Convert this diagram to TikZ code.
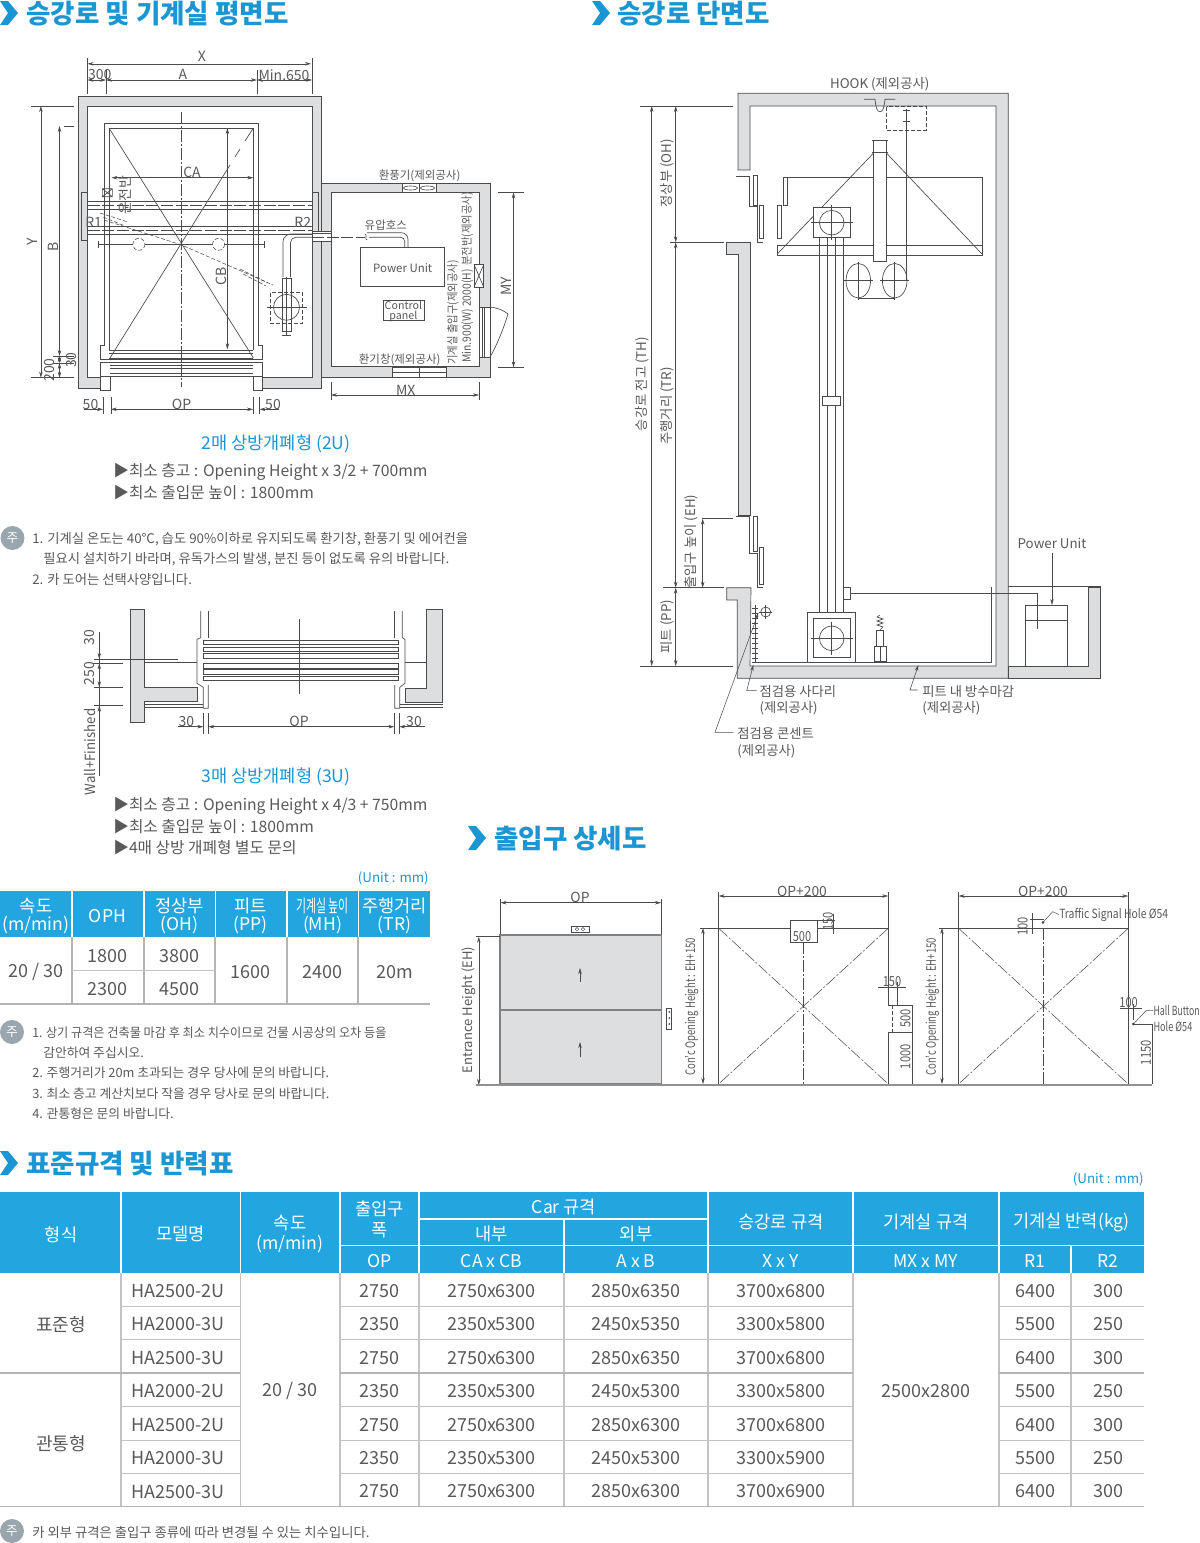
\documentclass[tikz,border=0pt]{standalone}
\usepackage{fontspec}
\usepackage{graphicx}
\setmainfont{Noto Sans CJK KR}
\usetikzlibrary{arrows.meta}
\definecolor{ink}{HTML}{595959}
\definecolor{linegray}{HTML}{4A4A4A}
\definecolor{wallgray}{HTML}{DDDEE0}
\definecolor{headblue}{HTML}{23A6DF}
\definecolor{titleblue}{HTML}{1B96D2}
\definecolor{rulegray}{HTML}{B4B4B4}
\definecolor{notegray}{HTML}{9AA6AD}
\newcommand{\sq}[2]{\scalebox{#1}[1]{#2}}
\tikzset{
  ln/.style={draw=linegray,line width=.5pt},
  thn/.style={draw=linegray,line width=.35pt},
  wall/.style={fill=wallgray,draw=linegray,line width=.5pt},
  dimline/.style={draw=linegray,line width=.4pt,<->,>={Stealth[length=4.5pt,width=2.6pt]}},
  oneway/.style={draw=linegray,line width=.4pt,->,>={Stealth[length=4.5pt,width=2.6pt]}},
  cl/.style={draw=linegray,line width=.4pt,dash pattern=on 9pt off 1.5pt on 1.5pt off 1.5pt},
  hid/.style={draw=linegray,line width=.4pt,dash pattern=on 3pt off 1.5pt},
  txt/.style={inner sep=0pt,yshift=-1pt,text=ink,font=\fontsize{10.5}{12}\selectfont},
  vert/.style={yshift=1pt,rotate=90},
  smalltxt/.style={txt,font=\fontsize{8.6}{10}\selectfont},
  midtxt/.style={txt,font=\fontsize{10}{12}\selectfont},
  drawtxt/.style={txt,font=\fontsize{10.4}{12}\selectfont},
  ttl/.style={inner sep=0pt,anchor=west,text=titleblue,font=\fontsize{19.9}{22}\selectfont\bfseries},
  capt/.style={inner sep=0pt,yshift=-1.5pt,text=titleblue,font=\fontsize{13.2}{15}\selectfont},
  spec/.style={inner sep=0pt,yshift=-1.5pt,anchor=west,text=ink,font=\fontsize{11.8}{14}\selectfont},
  notetxt/.style={inner sep=0pt,yshift=-1pt,anchor=west,text=ink,font=\fontsize{10}{12}\selectfont},
  notetxtb/.style={notetxt,font=\fontsize{9.6}{12}\selectfont},
  unittxt/.style={inner sep=0pt,yshift=-1pt,anchor=east,text=titleblue,font=\fontsize{10}{12}\selectfont},
  hd/.style={inner sep=0pt,yshift=-1pt,text=white,align=center,font=\fontsize{13.2}{14.4}\selectfont},
  cell/.style={inner sep=0pt,yshift=-1pt,text=ink,font=\fontsize{13.5}{15}\selectfont},
  tbrule/.style={draw=rulegray,line width=1.3pt},
  tbthin/.style={draw=rulegray!80,line width=.9pt},
  hdrule/.style={draw=white,line width=1.2pt},
  notemark/.style={circle,fill=notegray,inner sep=0pt,minimum size=18pt,text=white,font=\fontsize{9.5}{10}\selectfont}
}
\begin{document}
\begin{tikzpicture}[x=.75pt,y=-.75pt]
\useasboundingbox (0,0) rectangle (1200,1543);

\foreach \cx/\cy in {0/13,592/13,468/838,0/1163}
  \fill[titleblue] (\cx,\cy-12) -- (\cx+8,\cy-12) -- (\cx+18,\cy) -- (\cx+8,\cy+12)
    -- (\cx,\cy+12) -- (\cx+8,\cy) -- cycle;
\node[ttl] (ttlplan) at (26,14) {승강로 및 기계실 평면도};
\node[ttl] (ttlsect) at (617,14) {승강로 단면도};
\node[ttl] (ttlentr) at (494,839) {출입구 상세도};
\node[ttl] (ttlspec) at (26,1164) {표준규격 및 반력표};

\draw[wall] (100.7,388) -- (78.7,388) -- (78.7,96.7) -- (321,96.7) -- (321,388) -- (262,388)
  -- (262,377.7) -- (312,377.7) -- (312,106) -- (87.5,106) -- (87.5,377.7) -- (100.7,377.7) -- cycle;
\draw[wall,even odd rule] (321.6,183.3) rectangle (490,377.7) (331,192.3) rectangle (479,366.7);
\draw[wall] (81.8,192.7) rectangle (87.2,240.7);
\draw[wall] (312.5,192.7) rectangle (318.3,240.7);
\draw[ln,fill=white] (100.7,376) rectangle (110,390);
\draw[ln,fill=white] (253,376) rectangle (262,390);
\draw[ln] (100.7,362.3) rectangle (262,376);
\foreach \ly in {365,368,373} \draw[ln] (110,\ly) -- (253.3,\ly);
\draw[ln] (100.7,359) -- (100.7,345) -- (104.4,345) -- (104.4,123.3) -- (258.8,123.3)
  -- (258.8,345) -- (262,345) -- (262,359) -- cycle;
\draw[ln] (109,350) -- (109,128) -- (253.4,128) -- (253.4,350);
\foreach \ly in {350,353,358} \draw[ln] (109,\ly) -- (253.4,\ly);
\draw[ln] (109,128) -- (253.4,358);
\draw[ln] (110,358) -- (230,165) (235,157) -- (240,149) (245,141) -- (253.4,128);
\draw[cl] (181.6,112) -- (181.6,387);
\foreach \ly in {201,209,226.3,234.3} \draw[ln] (87.5,\ly) -- (312,\ly);
\foreach \ly in {205,230} \draw[draw=linegray,line width=.4pt,dash pattern=on 9pt off 2pt] (87.5,\ly) -- (312,\ly);
\draw[ln] (98.3,244.3) -- (264.2,244.3) (98.3,241) -- (98.3,248) (264.2,241) -- (264.2,248);
\draw[hid,fill=white] (138.9,244.3) circle[radius=6];
\draw[hid,fill=white] (218.6,244.3) circle[radius=6];
\draw[hid] (104,220) -- (181.6,245) -- (273,285);
\draw[hid] (100,213) -- (128,222) (103,217) -- (125,226);
\draw[hid] (240,269) -- (268,283) (243,274) -- (266,286);
\draw[ln] (102.4,188.7) rectangle (112.4,196.7) (102.4,188.7) -- (112.4,196.7) (102.4,196.7) -- (112.4,188.7);
\draw[dimline] (111.5,177.7) -- (253.4,177.7);
\draw[dimline] (227.4,128) -- (227.4,349.3);
\draw[dimline] (87.5,63.8) -- (311,63.8);
\draw[thn] (87.5,58) -- (87.5,93.5) (312,58) -- (312,93.5) (106,70) -- (106,93.5) (256.8,70) -- (256.8,93.5);
\draw[dimline] (87.5,80) -- (106,80);
\draw[dimline] (106,80) -- (256.8,80);
\draw[dimline] (256.8,80) -- (312,80);
\draw[dimline] (40.9,106) -- (40.9,377.7);
\draw[dimline] (59.5,126) -- (59.5,356);
\draw[dimline] (59.5,356) -- (59.5,363);
\draw[dimline] (59.5,363) -- (59.5,377.7);
\draw[thn] (31,106) -- (73.6,106) (64,126) -- (73.6,126) (53,356) -- (73.6,356) (53,363) -- (73.6,363) (31,377.7) -- (73.6,377.7);
\node[txt] (lblx) at (202,55) {X};
\node[txt] (lbl300) at (99.7,73.5) {300};
\node[txt] (lbla) at (183,73.5) {A};
\node[txt] (lblmin) at (284,73.5) {Min.650};
\node[txt] (lblca) at (192,171) {CA};
\node[txt,vert] (lblcb) at (221,276) {CB};
\node[txt,vert] (lbly) at (32.8,242) {Y};
\node[txt,vert] (lblb) at (53.4,247) {B};
\node[txt,vert] (lbl30a) at (71.6,360) {30};
\node[txt,vert] (lbl200) at (50,370) {200};
\node[txt,vert] (lblpanel) at (125,195) {운전반};
\node[txt] (lblr1) at (93.6,221) {R1};
\node[txt] (lblr2) at (302.7,221) {R2};
\draw[ln,fill=white] (312,231) rectangle (331,241.7);
\draw[ln] (312,233.7) -- (331,233.7);
\draw[ln,rounded corners=6pt] (283,277) -- (283,234) -- (312,234);
\draw[ln,rounded corners=4pt] (290.5,277) -- (290.5,237.3) -- (312,237.3);
\draw[draw=linegray,line width=.4pt,dash pattern=on 9pt off 2pt] (312,237.3) -- (365,237.3);
\draw[ln] (365,234) .. controls (368,236) and (364,238) .. (367,240);
\draw[ln,rounded corners=5pt] (367,232.7) -- (408,232.7) -- (408,247);
\draw[ln,rounded corners=3pt] (369,237.3) -- (404.7,237.3) -- (404.7,247);
\draw[ln,fill=white] (282,278) rectangle (291.2,331.7);
\draw[ln] (286.5,331.7) -- (286.5,335) (282,335) -- (291.2,335) (282,278) -- (291.2,278);
\draw[ln] (286.5,307.3) circle[radius=13];
\draw[hid] (270.3,292.7) rectangle (302.4,323.3);
\draw[ln] (267,307.3) -- (306.8,307.3) (286.5,277) -- (286.5,335);
\draw[ln,fill=white] (402,183.3) rectangle (436,192.3);
\draw[ln] (419,183.3) -- (419,192.3);
\draw[ln] (410.5,188) ellipse[x radius=7,y radius=2];
\draw[ln] (427.5,188) ellipse[x radius=7,y radius=2];
\draw[ln,fill=white] (392.2,367) rectangle (446.6,377.7);
\draw[ln] (392.2,372) -- (446.6,372) (419,367) -- (419,377.7);
\draw[ln,fill=white] (479,307) rectangle (490,357);
\draw[ln] (482,307) -- (482,357) (484.5,307) -- (484.5,357);
\draw[ln] (490,307) .. controls (498,308) and (503,310) .. (508,314) .. controls (503,330) and (497,345) .. (490,357);
\draw[ln,fill=white] (474,264.3) rectangle (483.8,287.3);
\draw[ln] (474,264.3) -- (483.8,287.3) (474,287.3) -- (483.8,264.3);
\draw[ln] (360.5,247.7) rectangle (444.6,286);
\draw[ln] (383.4,300.7) rectangle (424,320.7);
\node[smalltxt] (lblpu) at (402.7,267) {Power Unit};
\node[smalltxt,align=center,font=\fontsize{8}{7.5}\selectfont] (lblcp) at (403.4,310.5) {Control\\panel};
\node[smalltxt] (lblfan) at (419.6,175) {환풍기(제외공사)};
\node[smalltxt] (lblhose) at (385.8,224.3) {유압호스};
\node[smalltxt] (lblvent) at (399.7,359) {환기창(제외공사)};
\node[smalltxt,vert] (lblmr) at (453,312.5) {\sq{.9}{기계실 출입구(제외공사)}};
\node[smalltxt,vert] (lblmw) at (467.2,316) {\sq{.9}{Min.900(W) 2000(H)}};
\node[smalltxt,vert] (lbldb) at (467.2,229) {\sq{.9}{분전반(제외공사)}};
\draw[dimline] (513.5,192.5) -- (513.5,367.3);
\draw[thn] (498,192.5) -- (524,192.5) (498,367.3) -- (524,367.3);
\node[txt,vert] (lblmy) at (506,286) {MY};
\draw[dimline] (331,395) -- (479,395);
\draw[thn] (331,382) -- (331,400) (479,382) -- (479,400);
\node[txt] (lblmx) at (405.7,389) {MX};
\draw[thn] (103,397) -- (103,414) (110.8,397) -- (110.8,414) (253,397) -- (253,414) (259.5,397) -- (259.5,414);
\draw[dimline] (110.8,409.3) -- (253,409.3);
\draw[oneway] (84,409.3) -- (103,409.3);
\draw[oneway] (279,409.3) -- (259.5,409.3);
\node[txt] (lbl50a) at (90.5,403) {50};
\node[txt] (lblop) at (181.6,403) {OP};
\node[txt] (lbl50b) at (273,403) {50};

\node[capt] (cap2u) at (276,442) {2매 상방개폐형 (2U)};
\node[spec] (spec2a) at (113,470) {▶최소 층고 : Opening Height x 3/2 + 700mm};
\node[spec] (spec2b) at (113,491) {▶최소 출입문 높이 : 1800mm};
\node[notemark] (mark1) at (12.5,538) {주};
\node[notetxt] (nta) at (32,538) {1. 기계실 온도는 40℃, 습도 90\%이하로 유지되도록 환기창, 환풍기 및 에어컨을};
\node[notetxt] (ntb) at (43,558) {필요시 설치하기 바라며, 유독가스의 발생, 분진 등이 없도록 유의 바랍니다.};
\node[notetxt] (ntc) at (32,578) {2. 카 도어는 선택사양입니다.};

\draw[wall] (130.7,609.3) rectangle (144.3,722.3);
\draw[wall] (144.3,687.3) -- (197.3,687.3) -- (197.3,701.7) -- (144.3,701.7);
\fill[wallgray] (143.5,687.7) rectangle (145,701.3);
\draw[wall] (426.7,609.3) -- (442.7,609.3) -- (442.7,702.7) -- (405.7,702.7) -- (405.7,688.3) -- (426.7,688.3) -- cycle;
\draw[ln] (144.3,704) -- (203.3,704) (144.3,707.3) -- (203.3,707.3);
\draw[ln] (400,704) -- (442.7,704) (400,707.3) -- (442.7,707.3);
\draw[ln] (144.3,662) -- (197,662) (405,662) -- (426.7,662);
\draw[ln] (200.7,611) -- (200.7,637.7) -- (197,639.3) -- (197,683.3) -- (203.3,687.3) -- (203.3,708.3) -- (208.3,708.3) -- (208.3,685);
\draw[ln] (208.3,611) -- (208.3,638);
\draw[ln] (402.3,611) -- (402.3,637.7) -- (405,639.3) -- (405,683.3) -- (399.7,687.3) -- (399.7,708.3) -- (394.7,708.3) -- (394.7,685);
\draw[ln] (394.7,611) -- (394.7,638);
\foreach \ya/\yb in {640.7/644.7,647.3/651.3,653.3/658,663.3/668,669.3/674,676/680.7}
  \draw[ln] (203.3,\ya) rectangle (398.3,\yb);
\draw[ln] (299,619.3) -- (299,694.3);
\draw[thn] (99.3,632.3) -- (99.3,775.7);
\draw[thn] (94.3,659) -- (178.3,659) (93.3,663.3) -- (123.3,663.3) (94.3,687.3) -- (123.3,687.3) (94.3,705.7) -- (123.3,705.7);
\draw[oneway] (99.3,650) -- (99.3,659);
\draw[dimline] (99.3,663.3) -- (99.3,687.3);
\draw[oneway] (99.3,715) -- (99.3,705.7);
\node[txt,vert] (lbl30b) at (90,637.7) {30};
\node[txt,vert] (lbl250) at (90,673.7) {250};
\node[txt,vert] (lblwf) at (90,752) {\sq{.95}{Wall+Finished}};
\draw[thn] (203.3,713) -- (203.3,734) (208.3,713) -- (208.3,734) (394.3,713) -- (394.3,734) (399.3,713) -- (399.3,734);
\draw[dimline] (208.3,726.7) -- (394.3,726.7);
\draw[oneway] (178.3,726.7) -- (203.3,726.7);
\draw[oneway] (425,726.7) -- (399.3,726.7);
\node[txt] (lbl30c) at (186.3,720.5) {30};
\node[txt] (lblop3) at (299,720.5) {OP};
\node[txt] (lbl30d) at (414,720.5) {30};
\node[capt] (cap3u) at (276,775) {3매 상방개폐형 (3U)};
\node[spec] (spec3a) at (113,804) {▶최소 층고 : Opening Height x 4/3 + 750mm};
\node[spec] (spec3b) at (113,825) {▶최소 출입문 높이 : 1800mm};
\node[spec] (spec3c) at (113,846) {▶4매 상방 개폐형 별도 문의};

\node[unittxt] (unita) at (429,877) {(Unit : mm)};
\fill[headblue] (0,890.5) rectangle (430,937.3);
\foreach \tx in {72,143.7,215.3,286.7,358.3} {
  \draw[hdrule] (\tx,890.5) -- (\tx,937.3);
  \draw[tbrule] (\tx,937.3) -- (\tx,1004.3);
}
\draw[tbthin] (72,970.7) -- (215.3,970.7);
\draw[tbrule] (0,1004.3) -- (430,1004.3);
\node[hd] (sp) at (36,914.5) {속도\\[-1pt](m/min)};
\node[hd] (oph) at (107.5,915) {OPH};
\node[hd] (oh) at (179.5,914.5) {정상부\\[-1pt](OH)};
\node[hd] (pp) at (250.7,914.5) {피트\\[-1pt](PP)};
\node[hd] (mh) at (322.5,914.5) {\sq{.62}{기계실 높이}\\[-1pt](MH)};
\node[hd] (tr) at (394.5,914.5) {주행거리\\[-1pt](TR)};
\node[cell] (vspd) at (36,971) {20 / 30};
\node[cell] (va) at (107.5,955) {1800};
\node[cell] (vb) at (107.5,988) {2300};
\node[cell] (vc) at (179.5,955) {3800};
\node[cell] (vd) at (179.5,988) {4500};
\node[cell] (ve) at (250.7,971) {1600};
\node[cell] (vf) at (322.5,971) {2400};
\node[cell] (vg) at (394.5,971) {20m};
\node[notemark] (mark2) at (12,1032) {주};
\node[notetxtb] (ntd) at (32,1031) {\sq{.95}{1. 상기 규격은 건축물 마감 후 최소 치수이므로 건물 시공상의 오차 등을}};
\node[notetxtb] (nte) at (43,1051) {감안하여 주십시오.};
\node[notetxtb] (ntf) at (32,1071) {2. 주행거리가 20m 초과되는 경우 당사에 문의 바랍니다.};
\node[notetxtb] (ntg) at (32,1092) {3. 최소 층고 계산치보다 작을 경우 당사로 문의 바랍니다.};
\node[notetxtb] (nth) at (32,1112) {4. 관통형은 문의 바랍니다.};

\draw[wall] (738,170) -- (738,93.3) -- (1008.3,93.3) -- (1008.3,678.3) -- (737.3,678.3) -- (737.3,600)
  -- (726.7,600) -- (726.7,587.7) -- (751,587.7) -- (750,666) -- (996,666) -- (996,106) -- (750,106) -- (750,170) -- cycle;
\draw[wall] (738,515) -- (738,254) -- (726.7,254) -- (726.7,242.3) -- (750,242.3) -- (750,515) -- cycle;
\draw[wall] (1008.3,666) -- (1088.3,666) -- (1088.3,587.7) -- (1100.7,587.7) -- (1100.7,678.3) -- (1008.3,678.3) -- cycle;
\draw[ln] (1008.3,586.7) -- (1100.7,586.7);
\draw[ln] (736,176.7) -- (749.3,176.7) -- (749.3,206.7) -- (757.3,206.7) -- (757.3,242.3) -- (763,242.3);
\draw[ln,fill=white] (753.3,175) rectangle (757.3,205);
\draw[ln,fill=white] (759.3,205) rectangle (763.3,238.3);
\draw[ln,fill=white] (783.3,177.3) rectangle (787.3,205);
\draw[ln,fill=white] (777.3,205) rectangle (781.3,238.3);
\draw[ln] (783.3,177.3) -- (982,177.3) -- (982,255) -- (777.3,255) -- (777.3,245.7) -- (982,245.7);
\draw[ln] (777.3,254) -- (873.3,153.3) (886.7,153.3) -- (982,254);
\draw[ln,fill=white] (873.3,140.7) rectangle (886,261.7);
\draw[ln] (871.7,140.7) -- (888.3,140.7) (871.7,152.7) -- (888.3,152.7);
\draw[ln,fill=white] (813.3,207.3) rectangle (850,237.7);
\draw[ln] (831.7,222.7) circle[radius=12.3];
\draw[ln] (810.7,222.7) -- (852.7,222.7) (831.7,205) -- (831.7,240);
\foreach \tx in {819.7,827.3,835.7,843.3} \draw[ln] (\tx,238) -- (\tx,612.7);
\draw[ln,fill=white] (822.3,396) rectangle (840.7,405);
\draw[ln] (858.3,280.7) ellipse[x radius=12.3,y radius=17.3];
\draw[ln] (894.7,280.7) ellipse[x radius=12.3,y radius=17.3];
\draw[ln] (844,280.7) -- (873.3,280.7) (858.3,261.7) -- (858.3,300) (880,280.7) -- (909.3,280.7) (894.7,261.7) -- (894.7,300);
\draw[ln] (858.3,298.3) -- (894.7,298.3);
\draw[ln] (906.7,109.3) -- (906.7,280.7);
\draw[hid] (886.7,106.7) rectangle (926.7,130);
\draw[ln] (903,110) -- (910,110) (903,121) -- (910,121);
\draw[ln] (864,99.3) -- (875,99.3) .. controls (876,108) and (877,111.7) .. (880,111.7) .. controls (883,111.7) and (884,108) .. (885,99.3) -- (895.3,99.3);
\node[midtxt] (lblhook) at (879.7,82.7) {HOOK (제외공사)};
\draw[dimline] (651.7,106) -- (651.7,666);
\draw[dimline] (675.7,106) -- (675.7,242.3);
\draw[dimline] (675.7,242.3) -- (675.7,587.7);
\draw[dimline] (675.7,587.7) -- (675.7,666);
\draw[dimline] (702.7,518.7) -- (702.7,587.7);
\draw[thn] (640,106) -- (733,106) (670,242.3) -- (724,242.3) (702,518.7) -- (733,518.7) (663,587.7) -- (724,587.7) (640,666) -- (733,666);
\node[midtxt,vert] (lbloh) at (667.3,173.3) {정상부 (OH)};
\node[midtxt,vert] (lblth) at (642.3,384) {승강로 전고 (TH)};
\node[midtxt,vert] (lbltr) at (667.3,406) {주행거리 (TR)};
\node[midtxt,vert] (lbleh) at (691.7,541.7) {출입구 높이 (EH)};
\node[midtxt,vert] (lblpp) at (667.3,626.7) {피트 (PP)};
\draw[ln] (736,516) -- (749.3,516) -- (749.3,553.3) -- (757.3,553.3) -- (757.3,587.7) -- (763,587.7);
\draw[ln,fill=white] (753.3,516) rectangle (757.3,551.7);
\draw[ln,fill=white] (759.3,547.7) rectangle (763.3,584.3);
\draw[ln,fill=white] (807.3,612.7) rectangle (855.7,662.3);
\draw[ln] (813.3,618.3) rectangle (850,657.3);
\draw[ln] (831.7,638.3) circle[radius=12.3];
\draw[ln] (810.7,638.3) -- (852.7,638.3) (831.7,622) -- (831.7,655);
\draw[ln,fill=white] (843.3,587.7) rectangle (850,599.3);
\draw[ln] (850,593.3) -- (1037.3,593.3) -- (1037.3,629.3);
\draw[ln] (752,662.7) -- (991.7,662.7) -- (991.7,586.7);
\draw[ln] (880,615) -- (877,617) -- (883,619) -- (877,621) -- (883,623) -- (877,625) -- (883,627) -- (880,630);
\draw[ln] (876.7,630) rectangle (883.3,646.7);
\draw[ln] (874,646.7) rectangle (886,661.7);
\draw[ln] (880,646.7) -- (880,661.7);
\draw[ln] (755,605) -- (755,662.7);
\foreach \ly in {608,613,...,660} \draw[thn] (752,\ly) -- (758,\ly);
\draw[ln] (765.7,612) circle[radius=5];
\draw[thn] (759,612) -- (772,612) (765.7,605) -- (765.7,619);
\coordinate (tipladder) at (753.3,665);
\coordinate (tippit) at (918.3,665);
\coordinate (tipsock) at (758.3,613);
\draw[oneway] (756.7,690.7) -- (746.7,690.7) -- (tipladder);
\draw[oneway] (917.7,690) -- (910,690) -- (tippit);
\draw[oneway] (733.3,732.3) -- (715,732.3) -- (tipsock);
\node[midtxt,anchor=west] (lbllada) at (759.3,690) {점검용 사다리};
\node[midtxt,anchor=west] (lblladb) at (759.3,707) {(제외공사)};
\node[midtxt,anchor=west] (lblpita) at (922,690) {피트 내 방수마감};
\node[midtxt,anchor=west] (lblpitb) at (922,707) {(제외공사)};
\node[midtxt,anchor=west] (lblsoca) at (737,732) {점검용 콘센트};
\node[midtxt,anchor=west] (lblsocb) at (737,750) {(제외공사)};
\node[midtxt] (lblpu2) at (1052,542.3) {Power Unit};
\draw[ln] (1025,666) -- (1025,605) -- (1067.3,605) -- (1067.3,666);
\draw[ln] (1025,620.7) -- (1067.3,620.7);
\draw[oneway] (1052,553.3) -- (1052,605);

\draw[fill=wallgray,draw=linegray!70,line width=1pt] (500,935) rectangle (661.6,1084);
\draw[draw=linegray!70,line width=1.4pt] (500,935) -- (661.6,935);
\draw[draw=linegray!70,line width=.8pt] (500,1010) -- (661.6,1010);
\draw[dimline] (500.5,902.7) -- (661,902.7);
\draw[thn] (500.5,899) -- (500.5,934) (661,899) -- (661,934);
\node[drawtxt] (lblop2) at (580,896.5) {OP};
\draw[ln,fill=white] (571.5,926.5) rectangle (589,932);
\draw[thn] (577,929.3) circle[radius=1.8] (583,929.3) circle[radius=1.8];
\draw[oneway] (580,982) -- (580,968);
\draw[oneway] (580,1057) -- (580,1042);
\draw[ln,fill=white] (666.8,1008) rectangle (671.8,1029);
\foreach \ly in {1012,1018,1024} \fill[linegray] (669.3,\ly) circle[radius=1];
\node[txt,vert,font=\fontsize{9.8}{12}\selectfont] (lbleh2) at (469,1010) {Entrance Height (EH)};
\draw[dimline] (478.8,936.7) -- (478.8,1085);
\draw[thn] (476,936.7) -- (500,936.7);
\draw[draw=rulegray!80!black,line width=1pt] (476,1085) -- (1152.4,1085);

\draw[ln] (718.7,1084) -- (718.7,928.3) -- (790.4,928.3);
\draw[ln] (817,928.3) -- (888.2,928.3) -- (888.2,1005);
\draw[ln] (888.2,1032.3) -- (888.2,1084);
\draw[cl] (718.7,928.3) -- (888.2,1084);
\draw[cl] (888.2,928.3) -- (718.7,1084);
\draw[cl] (803.2,942.3) -- (803.2,1084);
\draw[ln] (790.4,920.3) rectangle (817,942.3);
\draw[dimline] (718.7,896) -- (888.2,896);
\draw[thn] (718.7,892) -- (718.7,928) (888.2,892) -- (888.2,928);
\node[drawtxt] (lblopa) at (802,889.7) {OP+200};
\node[txt,vert,font=\fontsize{9.8}{12}\selectfont] (lblconca) at (691.6,1006.7) {\sq{.73}{Con'c Opening Height : EH+150}};
\draw[dimline] (703,928) -- (703,1084);
\draw[thn] (700,928) -- (718.7,928);
\node[drawtxt] (lbl500a) at (802,935.5) {\sq{.8}{500}};
\draw[thn] (818.4,920.3) -- (835,920.3) (818.4,928.3) -- (835,928.3) (833.6,914) -- (833.6,934);
\node[drawtxt,vert] (lbl150a) at (827.9,921.7) {\sq{.8}{150}};
\draw[ln] (888.2,1005) -- (912,1005) (888.2,1032.3) -- (912,1032.3) (912,1005) -- (912,1084);
\draw[hid] (892,1005) -- (892,1032.3);
\node[drawtxt,vert] (lbl500b) at (905.4,1018.3) {\sq{.8}{500}};
\node[drawtxt,vert] (lbl1000) at (905.4,1056.7) {\sq{.8}{1000}};
\draw[thn] (888.2,981.7) -- (888.2,1005) (896.8,981.7) -- (896.8,1005) (877.8,987.3) -- (906.3,987.3);
\node[drawtxt] (lbl150b) at (892,980) {\sq{.8}{150}};

\draw[ln] (958.6,1084) -- (958.6,928.3) -- (1128.2,928.3) -- (1128.2,1084);
\draw[cl] (958.6,928.3) -- (1128.2,1084);
\draw[cl] (1128.2,928.3) -- (958.6,1084);
\draw[cl] (1043.1,928.3) -- (1043.1,1084);
\draw[dimline] (958.6,896) -- (1128.2,896);
\draw[thn] (958.6,892) -- (958.6,928) (1128.2,892) -- (1128.2,928);
\node[drawtxt] (lblopb) at (1043,889.7) {OP+200};
\node[txt,vert,font=\fontsize{9.8}{12}\selectfont] (lblconcb) at (932.4,1006.7) {\sq{.73}{Con'c Opening Height : EH+150}};
\draw[dimline] (942,928) -- (942,1084);
\draw[thn] (939,928) -- (958.6,928);
\draw[thn] (1029.8,919.3) -- (1044,919.3) (1029.8,928.3) -- (1044,928.3) (1032,913) -- (1032,934);
\node[drawtxt,vert] (lbl100a) at (1022.7,926.7) {\sq{.8}{100}};
\coordinate (sigdot) at (1043,922.3);
\fill[linegray] (sigdot) circle[radius=1.5];
\node[txt,anchor=west,font=\fontsize{9.5}{12}\selectfont] (lblsig) at (1059,913.3) {\sq{.82}{Traffic Signal Hole Ø54}};
\draw[thn] (sigdot) -- (1052.6,911.7) -- (lblsig.west);
\draw[thn] (1128,1004) -- (1128,1020) (1133.4,1004) -- (1133.4,1020) (1120,1008.3) -- (1141.5,1008.3);
\node[drawtxt] (lbl100b) at (1128.6,1001.7) {\sq{.8}{100}};
\coordinate (hbdot) at (1133.4,1024);
\fill[linegray] (hbdot) circle[radius=1.5];
\node[txt,anchor=west,font=\fontsize{9.5}{12}\selectfont] (lblhb) at (1153.3,1009) {\sq{.69}{Hall Button}};
\node[txt,anchor=west,font=\fontsize{9.5}{12}\selectfont] (lblho) at (1153.3,1025) {\sq{.72}{Hole Ø54}};
\draw[thn] (hbdot) -- (1146,1010.7) -- (lblhb.west);
\draw[thn] (hbdot) -- (1152,1024) -- (1152,1084);
\node[drawtxt,vert] (lbl1150) at (1146,1052.7) {\sq{.8}{1150}};

\node[unittxt] (unitb) at (1144,1178) {(Unit : mm)};
\fill[headblue] (0,1192.3) rectangle (1144,1272.7);
\foreach \tx in {121,240.3,340,419,708,853,999} \draw[hdrule] (\tx,1192.3) -- (\tx,1272.7);
\draw[hdrule] (419,1218.7) -- (708,1218.7);
\draw[hdrule] (340,1245.3) -- (1144,1245.3);
\draw[hdrule] (564,1218.7) -- (564,1272.7) (1071,1245.3) -- (1071,1272.7);
\node[hd] (hform) at (61,1233) {형식};
\node[hd] (hmodel) at (180.5,1233) {모델명};
\node[hd] (hspeed) at (290,1232.5) {속도\\[1pt](m/min)};
\node[hd] (hwidth) at (379.5,1218) {출입구\\[2pt]폭};
\node[hd] (hop) at (379.5,1260) {OP};
\node[hd] (hcar) at (564,1206) {Car 규격};
\node[hd] (hin) at (491.5,1233) {내부};
\node[hd] (hout) at (636,1233) {외부};
\node[hd] (hcab) at (491.5,1260) {CA x CB};
\node[hd] (hab) at (636,1260) {A x B};
\node[hd] (hshaft) at (781,1221) {승강로 규격};
\node[hd] (hxy) at (781,1260) {X x Y};
\node[hd] (hroom) at (926,1221) {기계실 규격};
\node[hd] (hmxy) at (926,1260) {MX x MY};
\node[hd] (hreact) at (1071.5,1221) {기계실 반력(kg)};
\node[hd] (hra) at (1035,1260) {R1};
\node[hd] (hrb) at (1108,1260) {R2};
\foreach \tx in {121,240.3,340,419,564,708,853,999,1071} \draw[tbthin] (\tx,1272.7) -- (\tx,1506.5);
\foreach \ly in {1306,1339.5,1406.5,1440,1473} \draw[tbthin,line width=.7pt] (121,\ly) -- (240.3,\ly) (340,\ly) -- (853,\ly) (999,\ly) -- (1144,\ly);
\draw[tbrule] (0,1373) -- (240.3,1373) (340,1373) -- (853,1373) (999,1373) -- (1144,1373);
\draw[tbrule] (0,1506.5) -- (1144,1506.5);
\node[cell] (tstd) at (61,1323) {표준형};
\node[cell] (tthru) at (61,1442) {관통형};
\node[cell] (tspd) at (290,1390) {20 / 30};
\node[cell] (tmxy) at (926,1390) {2500x2800};
\foreach \mdl/\opw/\cab/\ab/\xy/\ra/\rb [count=\n] in {
  HA2500-2U/2750/2750x6300/2850x6350/3700x6800/6400/300,
  HA2000-3U/2350/2350x5300/2450x5350/3300x5800/5500/250,
  HA2500-3U/2750/2750x6300/2850x6350/3700x6800/6400/300,
  HA2000-2U/2350/2350x5300/2450x5300/3300x5800/5500/250,
  HA2500-2U/2750/2750x6300/2850x6300/3700x6800/6400/300,
  HA2000-3U/2350/2350x5300/2450x5300/3300x5900/5500/250,
  HA2500-3U/2750/2750x6300/2850x6300/3700x6900/6400/300} {
  \pgfmathsetmacro{\ry}{1289.5+33.45*(\n-1)}
  \node[cell,anchor=west] (mdl\n) at (131,\ry) {\mdl};
  \node[cell] (opw\n) at (379.5,\ry) {\opw};
  \node[cell] (cab\n) at (491.5,\ry) {\cab};
  \node[cell] (ab\n) at (636,\ry) {\ab};
  \node[cell] (xy\n) at (781,\ry) {\xy};
  \node[cell] (ra\n) at (1035,\ry) {\ra};
  \node[cell] (rb\n) at (1108,\ry) {\rb};
}
\node[notemark] (mark3) at (12,1531) {주};
\node[notetxt] (nti) at (32,1531) {카 외부 규격은 출입구 종류에 따라 변경될 수 있는 치수입니다.};
\end{tikzpicture}
\end{document}
